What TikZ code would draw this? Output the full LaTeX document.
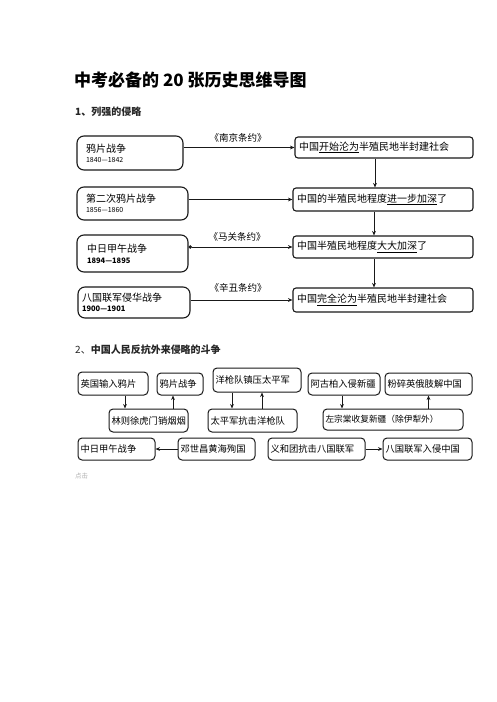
\documentclass[tikz,border=0pt]{standalone}
\usepackage{fontspec}
\setmainfont{Noto Sans CJK SC}
\usetikzlibrary{arrows.meta}
\begin{document}
\begin{tikzpicture}[x=1pt,y=-1pt,
  lbox/.style={draw=black!90, line width=1.1pt, rounded corners=7pt, align=left, font=\fontsize{10}{12}\selectfont, inner ysep=2pt},
  rbox/.style={draw=black!90, line width=1.1pt, rounded corners=3pt, align=left, font=\fontsize{10}{12}\selectfont, inner xsep=4pt, inner ysep=1pt},
  sbox/.style={draw=black!90, line width=1pt, rounded corners=4pt, align=left, font=\fontsize{9.3}{11}\selectfont, inner xsep=2.5pt, inner ysep=1pt},
  conn/.style={draw=black!90, line width=0.9pt, -{Stealth[length=4.5pt,width=3.8pt]}},
  treaty/.style={font=\fontsize{9.5}{11}\selectfont}
]
\useasboundingbox (0,0) rectangle (496,702);
\fill[white] (0,0) rectangle (496,702);

% titles
\node[anchor=west, inner sep=0pt, font=\fontsize{17}{20}\bfseries\selectfont] (title) at (74,80) {中考必备的 20 张历史思维导图};
\node[anchor=west, inner sep=0pt, font=\fontsize{10}{12}\bfseries\selectfont, text=black!85] (sec1) at (75,112) {1、列强的侵略};
\node[anchor=west, inner sep=0pt, font=\fontsize{10}{12}\selectfont, text=black!85] (sec2) at (75,350) {2、\textbf{中国人民反抗外来侵略的斗争}};

% section 1 left boxes
\node[lbox, minimum width=106pt, minimum height=34pt, text width=88pt, inner xsep=9pt] (L1) at (130,153)
  {鸦片战争\\[-2pt]{\fontsize{7}{8}\selectfont 1840—1842}};
\node[lbox, minimum width=111pt, minimum height=33pt, text width=93pt, inner xsep=9pt] (L2) at (132.5,203.5)
  {第二次鸦片战争\\[-2pt]{\fontsize{7}{8}\selectfont 1856—1860}};
\node[lbox, minimum width=111pt, minimum height=37pt, text width=91pt, inner xsep=10pt] (L3) at (132.5,253.5)
  {中日甲午战争\\[-1pt]{\fontsize{7.5}{8}\bfseries\selectfont 1894—1895}};
\node[lbox, minimum width=112pt, minimum height=31pt, text width=104pt, inner xsep=4pt] (L4) at (134,302.5)
  {八国联军侵华战争\\[-2pt]{\fontsize{7.5}{8}\bfseries\selectfont 1900—1901}};

% section 1 right boxes
\node[rbox, minimum width=178pt, minimum height=21pt, text width=170pt] (R1) at (384,147.5)
  {中国\underline{开始沦为}半殖民地半封建社会};
\node[rbox, minimum width=180pt, minimum height=23pt, text width=172pt] (R2) at (383,199.5)
  {中国的半殖民地程度\underline{进一步加深}了};
\node[rbox, minimum width=180pt, minimum height=22pt, text width=172pt] (R3) at (383,247)
  {中国半殖民地程度\underline{大大加深}了};
\node[rbox, minimum width=180pt, minimum height=24pt, text width=172pt] (R4) at (383,300)
  {中国\underline{完全沦为}半殖民地半封建社会};

% horizontal connectors
\draw[conn] (L1.east |- R1.west) -- (R1.west);
\draw[conn] (L2.east |- R2.west) -- (R2.west);
\draw[conn, {Circle[length=3.5pt]}-{Stealth[length=4.5pt,width=3.8pt]}] (L3.east |- R3.west) -- (R3.west);
\draw[conn] (L4.east |- R4.west) -- (R4.west);

% treaty labels
\node[treaty] (t1) at (238,138) {《南京条约》};
\node[treaty] (t2) at (237,237) {《马关条约》};
\node[treaty] (t3) at (238,288) {《辛丑条约》};

% vertical connectors
\draw[conn] ([xshift=-9pt]R1.south) -- ([xshift=-9pt]R1.south |- R2.north);
\draw[conn] ([xshift=-9pt]R2.south) -- ([xshift=-9pt]R2.south |- R3.north);
\draw[conn] ([xshift=-9pt]R3.south) -- ([xshift=-9pt]R3.south |- R4.north);

% section 2 boxes
\node[sbox, minimum width=70pt, minimum height=23pt, text width=65pt] (B1) at (113,383.5) {英国输入鸦片};
\node[sbox, minimum width=46pt, minimum height=22pt, text width=41pt] (B2) at (180,384) {鸦片战争};
\node[sbox, minimum width=88pt, minimum height=24pt, text width=83pt] (B3) at (257,380) {洋枪队镇压太平军};
\node[sbox, minimum width=72pt, minimum height=22pt, text width=67pt] (B4) at (344,384) {阿古柏入侵新疆};
\node[sbox, minimum width=87pt, minimum height=22pt, text width=82pt] (B5) at (428.5,384) {粉碎英俄肢解中国};
\node[sbox, minimum width=79pt, minimum height=23pt, text width=74pt] (B6) at (148.5,420.5) {林则徐虎门销烟烟};
\node[sbox, minimum width=89pt, minimum height=23pt, text width=84pt] (B7) at (252.5,420.5) {太平军抗击洋枪队};
\node[sbox, minimum width=140pt, minimum height=21pt, text width=135pt, font=\fontsize{8.7}{10}\selectfont] (B8) at (393,419.5) {左宗棠收复新疆（除伊犁外）};
\node[sbox, minimum width=77pt, minimum height=22pt, text width=72pt] (B9) at (116.5,449) {中日甲午战争};
\node[sbox, minimum width=77pt, minimum height=22pt, text width=72pt] (B10) at (216.5,449) {邓世昌黄海殉国};
\node[sbox, minimum width=97pt, minimum height=22pt, text width=92pt] (B11) at (316.5,449) {义和团抗击八国联军};
\node[sbox, minimum width=89pt, minimum height=22pt, text width=84pt] (B12) at (427.5,449) {八国联军入侵中国};

% section 2 connectors
\draw[conn] ([xshift=12pt]B1.south) -- ([xshift=12pt]B1.south |- B6.north);
\draw[conn] ([xshift=-7pt]B2.south |- B6.north) -- ([xshift=-7pt]B2.south);
\draw[conn] ([xshift=-25pt]B3.south) -- ([xshift=-25pt]B3.south |- B7.north);
\draw[conn] ([xshift=5pt]B3.south |- B7.north) -- ([xshift=5pt]B3.south);
\draw[conn] ([xshift=-2pt]B4.south) -- ([xshift=-2pt]B4.south |- B8.north);
\draw[conn] (B5.south |- B8.north) -- (B5.south);
\draw[conn] (B10.west |- B9.east) -- (B9.east);
\draw[conn] (B11.east) -- (B11.east -| B12.west);

% footer
\node[anchor=west, inner sep=0pt, font=\fontsize{6.5}{8}\selectfont, text=black!30] (click) at (75,476) {点击};
\end{tikzpicture}
\end{document}
